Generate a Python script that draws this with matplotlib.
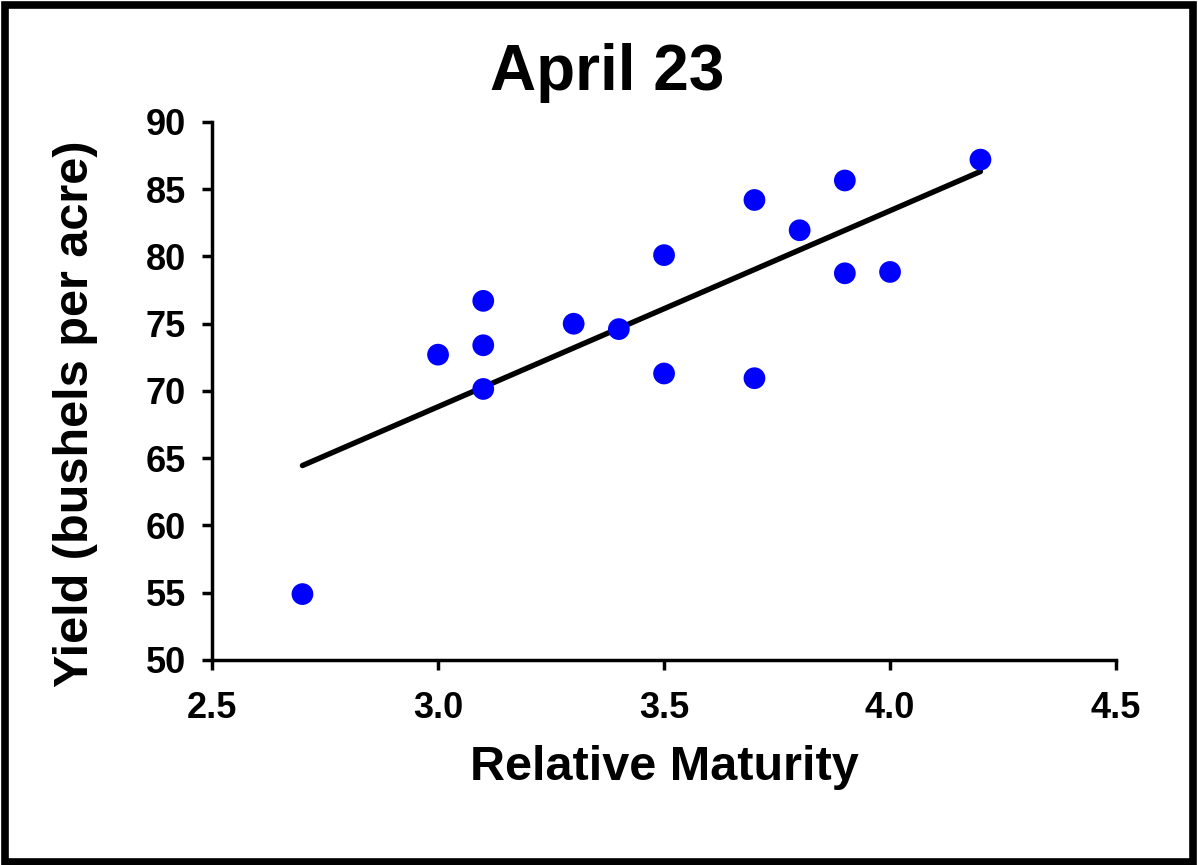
import numpy as np
import matplotlib
matplotlib.use("Agg")
import matplotlib.pyplot as plt
from matplotlib.patches import Rectangle

plt.rcParams['font.family'] = ['Liberation Sans', 'DejaVu Sans']
plt.rcParams['font.weight'] = 'bold'

maturity = [2.7, 3.0, 3.1, 3.1, 3.1, 3.3, 3.4, 3.5, 3.5, 3.7, 3.7, 3.8, 3.9, 3.9, 4.0, 4.2]
yield_bu = [54.9, 72.7, 76.7, 73.4, 70.15, 75.0, 74.6, 80.1, 71.3, 84.2, 70.95, 81.95, 85.65, 78.75, 78.85, 87.2]
title = "April 23"
xlabel = "Relative Maturity"
ylabel = "Yield (bushels per acre)"
xticks = [2.5, 3.0, 3.5, 4.0, 4.5]
yticks = [50, 55, 60, 65, 70, 75, 80, 85, 90]

fig = plt.figure(figsize=(11.98, 8.65), dpi=100)
ax = fig.add_axes([0.177, 0.237, 0.7546, 0.622])

x = np.array(maturity)
y = np.array(yield_bu)
slope, intercept = np.polyfit(x, y, 1)
xl = np.array([x.min(), x.max()])
ax.plot(xl, slope * xl + intercept, color='black', lw=3.9, solid_capstyle='round', zorder=2)
ax.scatter(x, y, s=245, color='#0000FF', edgecolors='none', zorder=3)

ax.set_xlim(2.5, 4.5)
ax.set_ylim(50, 90)
ax.set_xticks(xticks)
ax.set_xticklabels([f"{t:.1f}" for t in xticks])
ax.set_yticks(yticks)
ax.set_yticklabels([str(t) for t in yticks])
for s in ['top', 'right']:
    ax.spines[s].set_visible(False)
for s in ['left', 'bottom']:
    ax.spines[s].set_linewidth(2.5)
ax.tick_params(direction='out', length=7, width=2.5, labelsize=26)
ax.tick_params(axis='x', pad=15)
ax.tick_params(axis='y', pad=12)
for lab in ax.get_xticklabels() + ax.get_yticklabels():
    lab.set_fontweight('bold')

ax.set_xlabel(xlabel, fontsize=35, fontweight='bold')
ax.set_ylabel(ylabel, fontsize=35, fontweight='bold')
ax.xaxis.set_label_coords(0.5, -0.2007)
ax.xaxis.label.set_va('center')
ax.yaxis.set_label_coords(-0.1515, 0.457)
ax.yaxis.label.set_va('center')
fig.text(0.507, 0.916, title, fontsize=46, fontweight='bold', ha='center', va='center')

fig.patches.append(Rectangle((0.0045, 0.004), 0.9915, 0.99, transform=fig.transFigure,
                             fill=False, edgecolor='black', linewidth=5.5))

fig.savefig("out.png", dpi=100)
